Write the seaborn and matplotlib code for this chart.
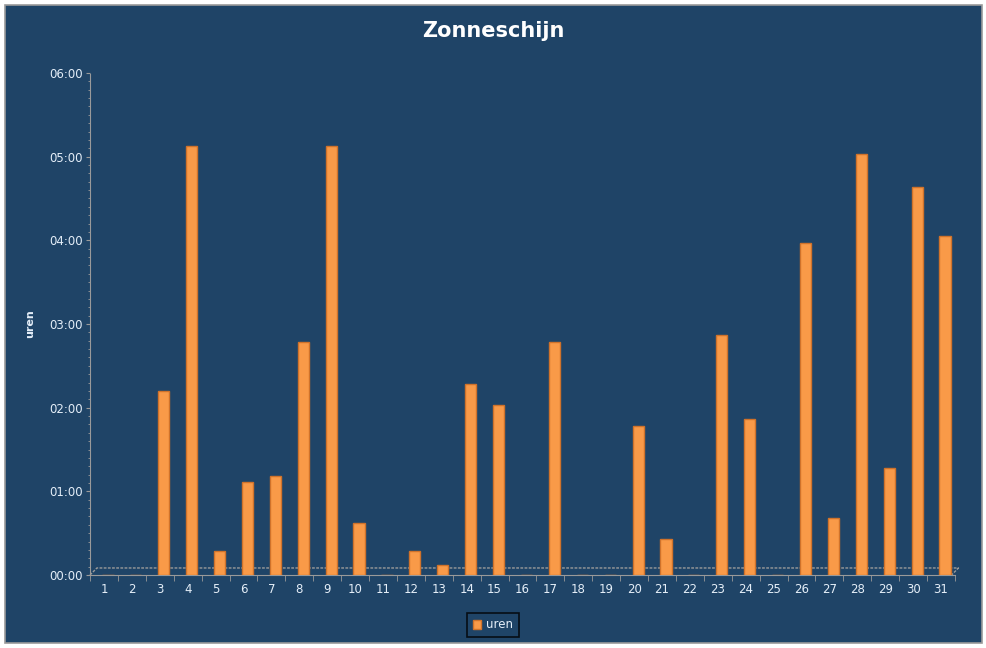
import seaborn as sns
import pandas as pd
import matplotlib.pyplot as plt
from matplotlib.patches import Rectangle
from matplotlib.transforms import ScaledTranslation
from matplotlib.ticker import FixedLocator, FuncFormatter, MultipleLocator

# sunshine per day, as hh:mm
days = list(range(1, 32))
sunshine = ["0:00", "0:00", "2:12", "5:08", "0:17", "1:07", "1:11", "2:47", "5:08", "0:37",
            "0:00", "0:17", "0:07", "2:17", "2:02", "0:00", "2:47", "0:00", "0:00", "1:47",
            "0:26", "0:00", "2:52", "1:52", "0:00", "3:58", "0:41", "5:02", "1:17", "4:38",
            "4:03"]
yticks_hours = [0, 1, 2, 3, 4, 5, 6]


def to_hours(s):
    h, m = s.split(":")
    return int(h) + int(m) / 60.0


df = pd.DataFrame({"dag": days, "uren": [to_hours(s) for s in sunshine]})

bg = "#1f4467"
txt = "#e4eef8"

fig = plt.figure(figsize=(9.87, 6.48), dpi=100)
fig.patch.set_facecolor("white")
frame = Rectangle((5 / 987, 5 / 648), 977 / 987, 638 / 648, transform=fig.transFigure,
                  facecolor=bg, edgecolor="#9a9a9a", linewidth=1.2, zorder=-10)
fig.patches.append(frame)

ax = fig.add_axes([90 / 987, 73 / 648, 865 / 987, 502 / 648])
ax.set_facecolor("none")

sns.barplot(data=df, x="dag", y="uren", color="#f99a48", edgecolor="#d0722a",
            linewidth=1.0, width=0.4, saturation=1, ax=ax, label="uren", zorder=3)

# bars sit a little to the right of the labels (3d depth)
shift = ScaledTranslation(4 / 100, 0, fig.dpi_scale_trans)
for p in ax.patches:
    p.set_transform(ax.transData + shift)

ax.set_ylim(0, 6)
ax.set_xlim(-0.5, 30.5)
ax.yaxis.set_major_locator(FixedLocator(yticks_hours))
ax.yaxis.set_major_formatter(FuncFormatter(lambda v, p: "%02d:%02d" % (int(v), round((v - int(v)) * 60))))
ax.yaxis.set_minor_locator(MultipleLocator(0.1))
ax.xaxis.set_minor_locator(MultipleLocator(1, offset=0.5))

for s in ["top", "right"]:
    ax.spines[s].set_visible(False)
ax.spines["left"].set_color("#9a9a9a")
ax.spines["left"].set_linestyle((0, (1, 1)))
ax.spines["bottom"].set_color("#9a9a9a")

ax.tick_params(axis="both", which="major", colors="#9a9a9a", labelcolor=txt, labelsize=8.5)
ax.tick_params(axis="x", which="major", length=0, pad=6)
ax.tick_params(axis="x", which="minor", length=4, color="#9a9a9a")
ax.tick_params(axis="y", which="major", length=3, pad=2)
ax.tick_params(axis="y", which="minor", length=1.5, color="#9a9a9a")

# 3d floor outline
ax.plot([0, 0.008, 1.004, 0.996], [0, 0.014, 0.014, 0], transform=ax.transAxes,
        color="#9a9a9a", linestyle=(0, (2, 1)), linewidth=1, clip_on=False, zorder=2)

ax.set_xlabel("")
ax.set_ylabel("uren", color=txt, fontsize=8, fontweight="bold", labelpad=10)

fig.text(0.5, 1 - 31 / 648, "Zonneschijn", ha="center", va="center", color="white",
         fontsize=15, fontweight="bold")

leg = ax.legend(loc="center", bbox_to_anchor=(493 / 987, 1 - 625 / 648),
                bbox_transform=fig.transFigure, frameon=True, fontsize=8.5,
                handlelength=0.7, handleheight=0.9, handletextpad=0.4, borderpad=0.5)
leg.get_frame().set_facecolor(bg)
leg.get_frame().set_edgecolor("black")
leg.get_frame().set_linewidth(1.2)
leg.get_frame().set_boxstyle("square", pad=0)
for t in leg.get_texts():
    t.set_color(txt)

plt.savefig("out.png", dpi=100, facecolor=fig.get_facecolor())
